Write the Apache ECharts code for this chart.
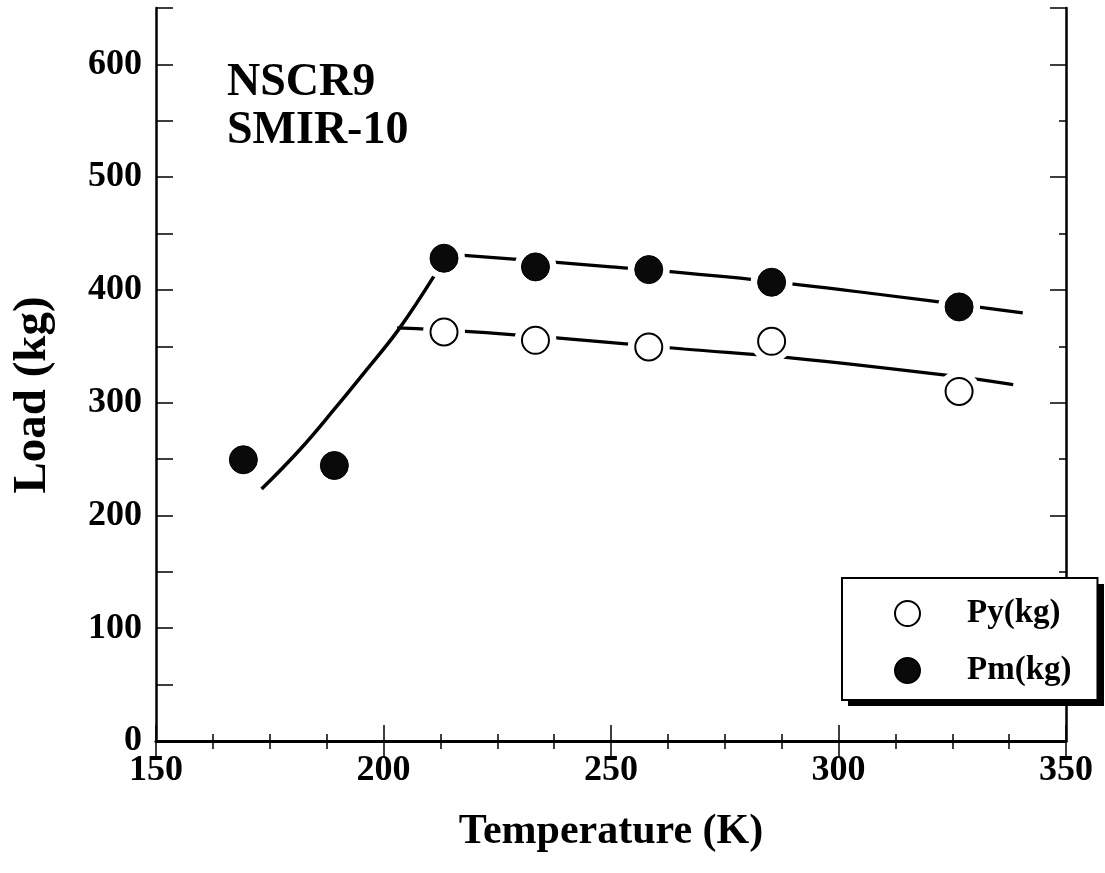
<!DOCTYPE html>
<html>
<head>
<meta charset="utf-8">
<title>Load vs Temperature</title>
<script src="https://cdn.jsdelivr.net/npm/echarts@6/dist/echarts.min.js"></script>
<style>
  html, body { margin: 0; padding: 0; background: #fff; }
  #chart { width: 1105px; height: 873px; }
</style>
</head>
<body>
<div id="chart"></div>
<script>
// Measured points: [temperature (K), load (kg)]
const pyPoints = [[213.3, 362.7], [233.4, 355.3], [258.3, 349.4], [285.3, 354.4], [326.5, 310.0]];
const pmPoints = [[169.2, 249.4], [189.2, 244.3], [213.3, 428.1], [233.4, 420.4], [258.3, 418.0], [285.3, 406.8], [326.5, 384.9]];

// Trend curves drawn through the data
const lowTempCurve = [[173.2, 223.4], [181.6, 258.3], [189.7, 296.7], [196.3, 329.3], [203.3, 364.8], [211.3, 413.6]];
const pmTrend = [[213.3, 432.0], [250.0, 420.5], [281.2, 409.2], [310.0, 395.5], [340.5, 379.6]];
const pyTrend = [[203.0, 366.3], [218.0, 363.3], [238.0, 357.4], [266.0, 347.6], [290.0, 339.6], [324.5, 324.0], [338.4, 316.0]];

// Axis settings and labels
const xRange = [150, 350];
const yRange = [0, 650];
const xTitle = 'Temperature (K)';
const yTitle = 'Load (kg)';
const noteLines = ['NSCR9', 'SMIR-10'];
const seriesNames = ['Py(kg)', 'Pm(kg)'];

const serif = '"Liberation Serif", "Times New Roman", Times, serif';
const ink = '#000';

const chart = echarts.init(document.getElementById('chart'), null, { renderer: 'canvas' });

const tickFont = { color: ink, fontFamily: serif, fontWeight: 'bold', fontSize: 36 };

// legend box geometry (pixels)
const legendBox = { left: 842, top: 578, width: 256, height: 122 };

chart.setOption({
  animation: false,
  backgroundColor: '#fff',
  grid: { left: 156, right: 39, top: 8, bottom: 132, containLabel: false },
  xAxis: [
    {
      type: 'value', min: xRange[0], max: xRange[1], interval: 50,
      position: 'bottom',
      axisLine: { lineStyle: { color: ink, width: 3 } },
      axisTick: { inside: true, length: 16, lineStyle: { color: ink, width: 1.5 } },
      minorTick: { show: true, splitNumber: 4, length: 7, lineStyle: { color: ink, width: 1.5 } },
      splitLine: { show: false },
      axisLabel: Object.assign({ margin: 12 }, tickFont),
      name: xTitle, nameLocation: 'middle', nameGap: 70,
      nameTextStyle: { color: ink, fontFamily: serif, fontWeight: 'bold', fontSize: 42 }
    },
    {
      type: 'value', min: xRange[0], max: xRange[1], interval: 50,
      position: 'top',
      axisLine: { show: true, lineStyle: { color: ink, width: 2.5 } },
      axisTick: { show: true, inside: true, length: 16, lineStyle: { color: ink, width: 1.5 } },
      minorTick: { show: true, splitNumber: 4, length: 8, lineStyle: { color: ink, width: 1.5 } },
      splitLine: { show: false },
      axisLabel: { show: false }
    }
  ],
  yAxis: [
    {
      type: 'value', min: yRange[0], max: yRange[1], interval: 50,
      position: 'left',
      axisLine: { show: true, lineStyle: { color: ink, width: 2.5 } },
      axisTick: { show: true, inside: true, length: 17, lineStyle: { color: ink, width: 1.5 } },
      splitLine: { show: false },
      axisLabel: Object.assign({
        margin: 14,
        formatter: v => (v % 100 === 0 && v <= 600 ? String(v) : '')
      }, tickFont)
    },
    {
      type: 'value', min: yRange[0], max: yRange[1], interval: 100,
      position: 'right',
      axisLine: { show: true, lineStyle: { color: ink, width: 2.5 } },
      axisTick: { show: true, inside: true, length: 16, lineStyle: { color: ink, width: 1.5 } },
      minorTick: { show: true, splitNumber: 2, length: 7, lineStyle: { color: ink, width: 1.5 } },
      splitLine: { show: false },
      axisLabel: { show: false }
    }
  ],
  legend: {
    data: seriesNames,
    orient: 'vertical',
    left: legendBox.left, top: legendBox.top,
    padding: [19, 26, 13, 52],
    itemGap: 24,
    itemWidth: 25, itemHeight: 25,
    icon: 'circle',
    backgroundColor: '#fff',
    borderColor: ink, borderWidth: 2,
    z: 5,
    textStyle: { color: ink, fontFamily: serif, fontWeight: 'bold', fontSize: 33, padding: [0, 0, 0, 42] }
  },
  graphic: [
    {
      // drop shadow behind the legend box
      type: 'rect', z: 4,
      shape: { x: legendBox.left + 6, y: legendBox.top + 6, width: legendBox.width, height: legendBox.height },
      style: { fill: ink }
    },
    {
      type: 'text', x: 33, y: 395, rotation: Math.PI / 2,
      style: { text: yTitle, fill: ink, font: 'bold 47px ' + serif, align: 'center', verticalAlign: 'middle' }
    },
    {
      type: 'text', left: 227, top: 59,
      style: { text: noteLines.join('\n'), fill: ink, font: 'bold 46px ' + serif, lineHeight: 48 }
    }
  ],
  series: [
    {
      name: 'low-temperature curve', type: 'line', data: lowTempCurve,
      smooth: 0.4, showSymbol: false, silent: true, z: 2,
      lineStyle: { color: ink, width: 3.5 }
    },
    {
      name: 'Pm trend', type: 'line', data: pmTrend,
      smooth: 0.4, showSymbol: false, silent: true, z: 2,
      lineStyle: { color: ink, width: 3.2 }
    },
    {
      name: 'Py trend', type: 'line', data: pyTrend,
      smooth: 0.4, showSymbol: false, silent: true, z: 2,
      lineStyle: { color: ink, width: 3.2 }
    },
    // white clearance around each marker so the trend lines break there
    {
      name: 'Py clearance', type: 'scatter', data: pyPoints, symbolSize: 42, silent: true, z: 3,
      itemStyle: { color: '#fff', opacity: 1 }
    },
    {
      name: 'Pm clearance', type: 'scatter', data: pmPoints, symbolSize: 42, silent: true, z: 3,
      itemStyle: { color: '#fff', opacity: 1 }
    },
    {
      name: seriesNames[0], type: 'scatter', data: pyPoints, symbol: 'circle', symbolSize: 27, z: 4,
      itemStyle: { color: '#fff', borderColor: ink, borderWidth: 2, opacity: 1 }
    },
    {
      name: seriesNames[1], type: 'scatter', data: pmPoints, symbol: 'circle', symbolSize: 28, z: 4,
      itemStyle: { color: '#0a0a0a', borderColor: ink, borderWidth: 1, opacity: 1 }
    }
  ]
});
</script>
</body>
</html>
